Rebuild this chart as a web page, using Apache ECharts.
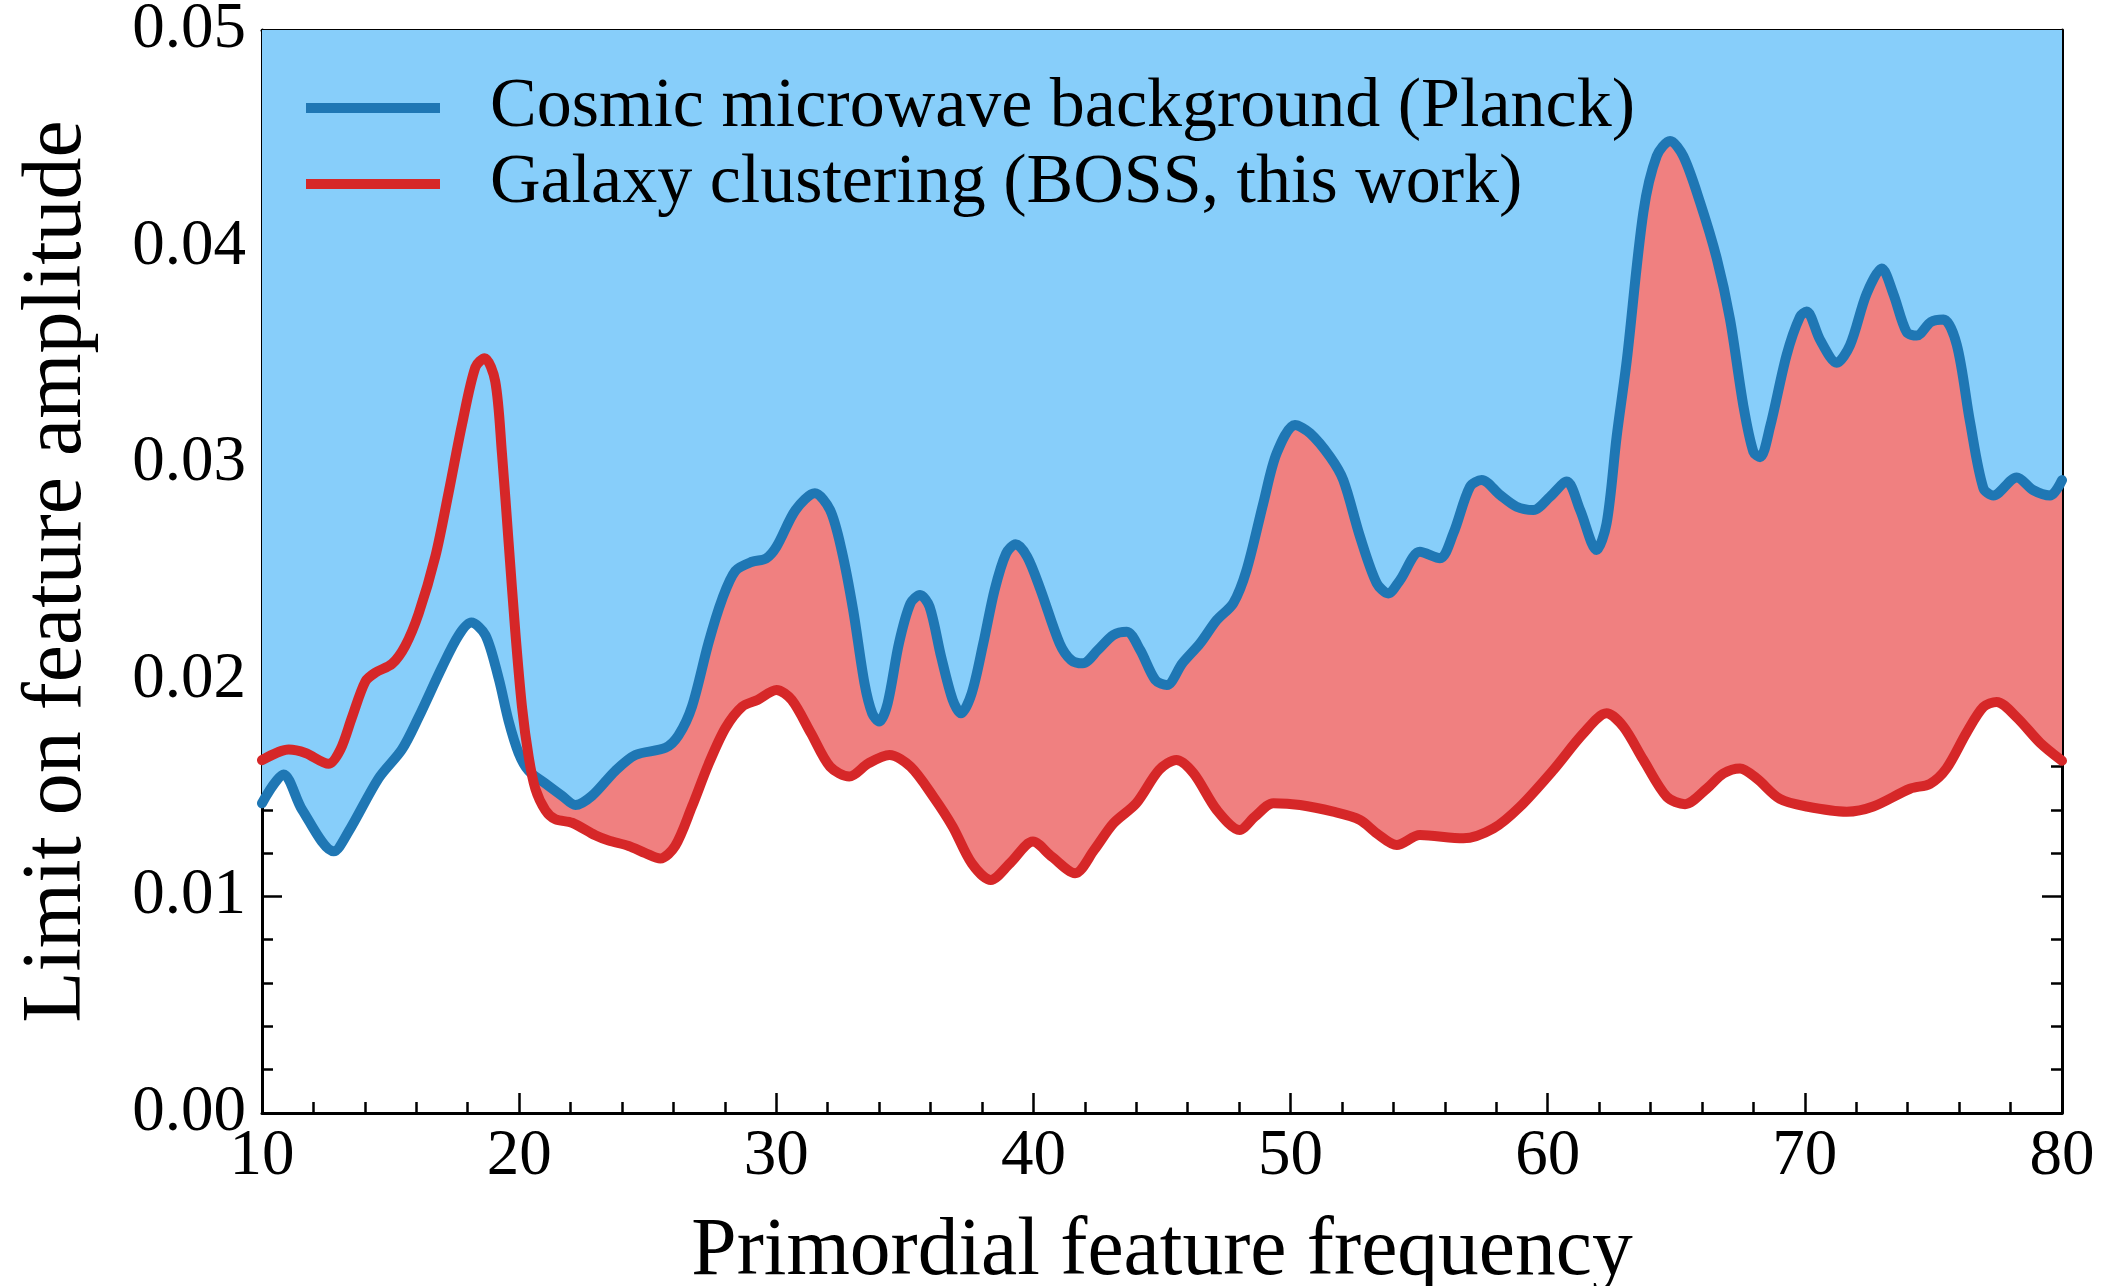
<!DOCTYPE html>
<html>
<head>
<meta charset="utf-8">
<script src="https://cdn.jsdelivr.net/npm/echarts@6/dist/echarts.min.js"></script>
<style>
  html, body { margin: 0; padding: 0; background: #ffffff; }
  #chart { width: 2106px; height: 1286px; }
</style>
</head>
<body>
<div id="chart"></div>
<script>
// Upper limits on the primordial feature amplitude versus feature frequency
const planckFreq = [10.0, 10.84, 11.56, 12.79, 13.37, 14.54, 15.44, 16.09, 17.0, 17.65, 18.14, 18.69, 19.2, 19.59, 19.98, 20.37, 21.02, 21.67, 22.19, 22.83, 23.74, 24.52, 25.69, 26.2, 26.72, 27.37, 27.89, 28.41, 29.06, 29.6, 30.01, 30.75, 31.5, 32.09, 32.54, 32.99, 33.43, 33.73, 34.0, 34.33, 34.77, 35.22, 35.59, 35.96, 36.41, 36.86, 37.18, 37.6, 38.05, 38.49, 38.94, 39.31, 39.76, 40.28, 41.02, 41.47, 41.92, 42.51, 43.11, 43.63, 44.15, 44.74, 45.19, 45.79, 46.48, 47.13, 47.77, 48.29, 48.94, 49.46, 50.17, 50.76, 51.53, 52.05, 52.7, 53.35, 53.8, 54.26, 55.03, 55.81, 56.33, 56.98, 57.43, 58.15, 58.79, 59.44, 60.09, 60.74, 61.26, 61.9, 62.29, 62.68, 63.07, 63.72, 64.24, 64.76, 65.27, 65.92, 66.57, 67.09, 67.61, 68.0, 68.26, 68.65, 69.29, 69.81, 70.07, 70.59, 71.24, 71.76, 72.4, 72.99, 73.44, 73.96, 74.35, 74.9, 75.39, 75.91, 76.42, 76.94, 77.33, 78.24, 78.89, 79.54, 80.0];
const planckLimit = [0.0143, 0.01563, 0.0140, 0.01208, 0.0130, 0.01546, 0.01678, 0.01827, 0.02058, 0.02206, 0.02264, 0.02206, 0.02008, 0.0181, 0.01662, 0.0158, 0.01521, 0.01464, 0.01422, 0.01464, 0.0158, 0.01653, 0.01686, 0.01744, 0.01876, 0.02173, 0.02371, 0.02503, 0.02545, 0.0256, 0.02615, 0.02784, 0.02861, 0.02784, 0.02599, 0.02322, 0.01984, 0.01845, 0.01807, 0.01891, 0.02168, 0.02353, 0.02392, 0.02338, 0.02107, 0.01907, 0.01845, 0.01938, 0.02168, 0.02415, 0.02584, 0.02626, 0.02568, 0.02415, 0.02168, 0.02091, 0.02076, 0.02138, 0.02207, 0.02222, 0.02138, 0.01999, 0.01976, 0.02076, 0.02168, 0.02276, 0.02353, 0.02507, 0.02815, 0.03046, 0.03176, 0.03138, 0.0303, 0.02922, 0.02661, 0.02446, 0.02399, 0.02461, 0.02591, 0.02561, 0.02676, 0.02892, 0.02922, 0.02853, 0.02799, 0.02784, 0.02845, 0.02915, 0.02784, 0.02599, 0.02722, 0.03122, 0.0347, 0.04159, 0.04418, 0.04488, 0.04418, 0.04206, 0.03947, 0.03664, 0.03264, 0.03052, 0.03028, 0.03169, 0.03499, 0.03676, 0.037, 0.0357, 0.03464, 0.03546, 0.03782, 0.03899, 0.03782, 0.03605, 0.03589, 0.03652, 0.03664, 0.03546, 0.03193, 0.02886, 0.02851, 0.02934, 0.02875, 0.02851, 0.02922];

const bossFreq = [10.0, 11.04, 11.69, 12.59, 13.05, 13.5, 14.02, 14.41, 15.06, 15.57, 16.09, 16.74, 17.26, 17.78, 18.3, 18.66, 19.07, 19.33, 19.59, 19.85, 20.11, 20.37, 20.63, 21.02, 21.41, 22.06, 22.96, 23.48, 24.26, 24.91, 25.49, 26.07, 26.72, 27.37, 28.02, 28.67, 29.27, 30.01, 30.6, 31.35, 32.09, 32.84, 33.58, 34.4, 35.22, 36.11, 36.86, 37.6, 38.34, 39.09, 39.98, 40.72, 41.62, 42.36, 43.11, 44.0, 44.89, 45.56, 46.23, 47.13, 48.02, 48.61, 49.33, 50.37, 51.66, 52.7, 53.35, 54.13, 55.03, 56.72, 57.89, 58.92, 60.22, 61.39, 62.29, 62.94, 63.72, 64.63, 65.34, 66.18, 66.83, 67.48, 68.13, 69.03, 70.07, 71.63, 72.66, 74.09, 74.87, 75.51, 76.29, 76.94, 77.46, 78.24, 79.15, 80.0];
const bossLimit = [0.01629, 0.01678, 0.01662, 0.01612, 0.01678, 0.01827, 0.01992, 0.02033, 0.02074, 0.02157, 0.02305, 0.02569, 0.02866, 0.0318, 0.03444, 0.03485, 0.03378, 0.03048, 0.02635, 0.02223, 0.01876, 0.01645, 0.01497, 0.01398, 0.01356, 0.0134, 0.01282, 0.01258, 0.01233, 0.012, 0.01175, 0.01233, 0.01414, 0.01612, 0.01777, 0.01876, 0.01907, 0.01953, 0.01907, 0.01753, 0.01599, 0.01553, 0.01614, 0.01653, 0.01599, 0.0146, 0.01322, 0.01153, 0.01076, 0.01153, 0.01253, 0.01183, 0.01107, 0.01214, 0.01337, 0.0143, 0.01584, 0.0163, 0.01568, 0.01399, 0.01307, 0.01368, 0.0143, 0.01422, 0.01391, 0.01353, 0.01291, 0.01237, 0.01283, 0.01268, 0.01314, 0.01414, 0.01584, 0.01753, 0.01845, 0.01784, 0.0163, 0.0146, 0.01426, 0.01497, 0.01567, 0.01591, 0.01544, 0.0145, 0.01415, 0.01391, 0.01415, 0.01497, 0.0152, 0.01591, 0.01756, 0.01874, 0.01898, 0.01827, 0.01709, 0.01626];

const planckName = 'Cosmic microwave background (Planck)';
const bossName = 'Galaxy clustering (BOSS, this work)';
const xTicks = { min: 10, max: 80, step: 10 };
const yTicks = { min: 0, max: 0.05, step: 0.01 };

const pairs = (xs, ys) => xs.map((x, i) => [x, ys[i]]);
const planckData = pairs(planckFreq, planckLimit);
const bossData = pairs(bossFreq, bossLimit);

const FONT = '"Liberation Serif", "Times New Roman", serif';
const BLUE = '#1f77b4', RED = '#d62728';
const SKY = '#87cefa', CORAL = '#f08080';
const SMOOTH = 0.3;
const LINE_W = 10;

const frameAxis = (extra) => Object.assign({
  type: 'value',
  axisLine: { show: true, onZero: false, lineStyle: { color: '#000', width: 3 } },
  axisTick: { show: true, inside: true, length: 20, lineStyle: { color: '#000', width: 2.5 } },
  minorTick: { show: true, splitNumber: 5, length: 11, lineStyle: { color: '#000', width: 2.5 } },
  splitLine: { show: false },
  minorSplitLine: { show: false }
}, extra);

const chart = echarts.init(document.getElementById('chart'), null, { renderer: 'canvas' });

chart.setOption({
  animation: false,
  backgroundColor: '#ffffff',
  grid: { left: 262, right: 44, top: 30, bottom: 173, containLabel: false, outerBoundsMode: 'none' },
  legend: {
    orient: 'vertical',
    left: 306,
    top: 70,
    padding: 0,
    icon: 'rect',
    itemWidth: 134,
    itemHeight: LINE_W,
    itemGap: 0,
    data: [planckName, bossName],
    textStyle: { fontFamily: FONT, fontSize: 70, color: '#000', lineHeight: 76, padding: [0, 0, 0, 45] }
  },
  xAxis: [
    frameAxis({
      position: 'bottom', min: xTicks.min, max: xTicks.max, interval: xTicks.step,
      name: 'Primordial feature frequency', nameLocation: 'middle', nameGap: 99,
      nameTextStyle: { fontFamily: FONT, fontSize: 81.5, color: '#000' },
      axisLabel: { show: true, margin: 11, fontFamily: FONT, fontSize: 65, color: '#000' }
    }),
    frameAxis({
      position: 'top', min: xTicks.min, max: xTicks.max, interval: xTicks.step,
      axisLabel: { show: false }
    })
  ],
  yAxis: [
    frameAxis({
      position: 'left', min: yTicks.min, max: yTicks.max, interval: yTicks.step,
      name: 'Limit on feature amplitude', nameLocation: 'middle', nameGap: 162,
      nameTextStyle: { fontFamily: FONT, fontSize: 84, color: '#000' },
      axisLabel: { show: true, margin: 16, fontFamily: FONT, fontSize: 65, color: '#000',
        formatter: (v) => v.toFixed(2) }
    }),
    frameAxis({
      position: 'right', min: yTicks.min, max: yTicks.max, interval: yTicks.step,
      axisLabel: { show: false }
    })
  ],
  series: [
    {
      // coral band: everything above the BOSS limit
      type: 'line', name: 'bossFill', data: bossData, smooth: SMOOTH,
      showSymbol: false, silent: true, legendHoverLink: false,
      lineStyle: { width: 0, opacity: 0 },
      areaStyle: { color: CORAL, opacity: 1, origin: 'end' },
      z: 1
    },
    {
      // sky band: everything above the Planck limit, painted over the coral
      type: 'line', name: 'planckFill', data: planckData, smooth: SMOOTH,
      showSymbol: false, silent: true, legendHoverLink: false,
      lineStyle: { width: 0, opacity: 0 },
      areaStyle: { color: SKY, opacity: 1, origin: 'end' },
      z: 2
    },
    {
      type: 'line', name: planckName, data: planckData, smooth: SMOOTH,
      showSymbol: false, itemStyle: { color: BLUE },
      lineStyle: { color: BLUE, width: LINE_W, cap: 'round', join: 'round' },
      z: 3
    },
    {
      type: 'line', name: bossName, data: bossData, smooth: SMOOTH,
      showSymbol: false, itemStyle: { color: RED },
      lineStyle: { color: RED, width: LINE_W, cap: 'round', join: 'round' },
      z: 4
    }
  ]
});
</script>
</body>
</html>
